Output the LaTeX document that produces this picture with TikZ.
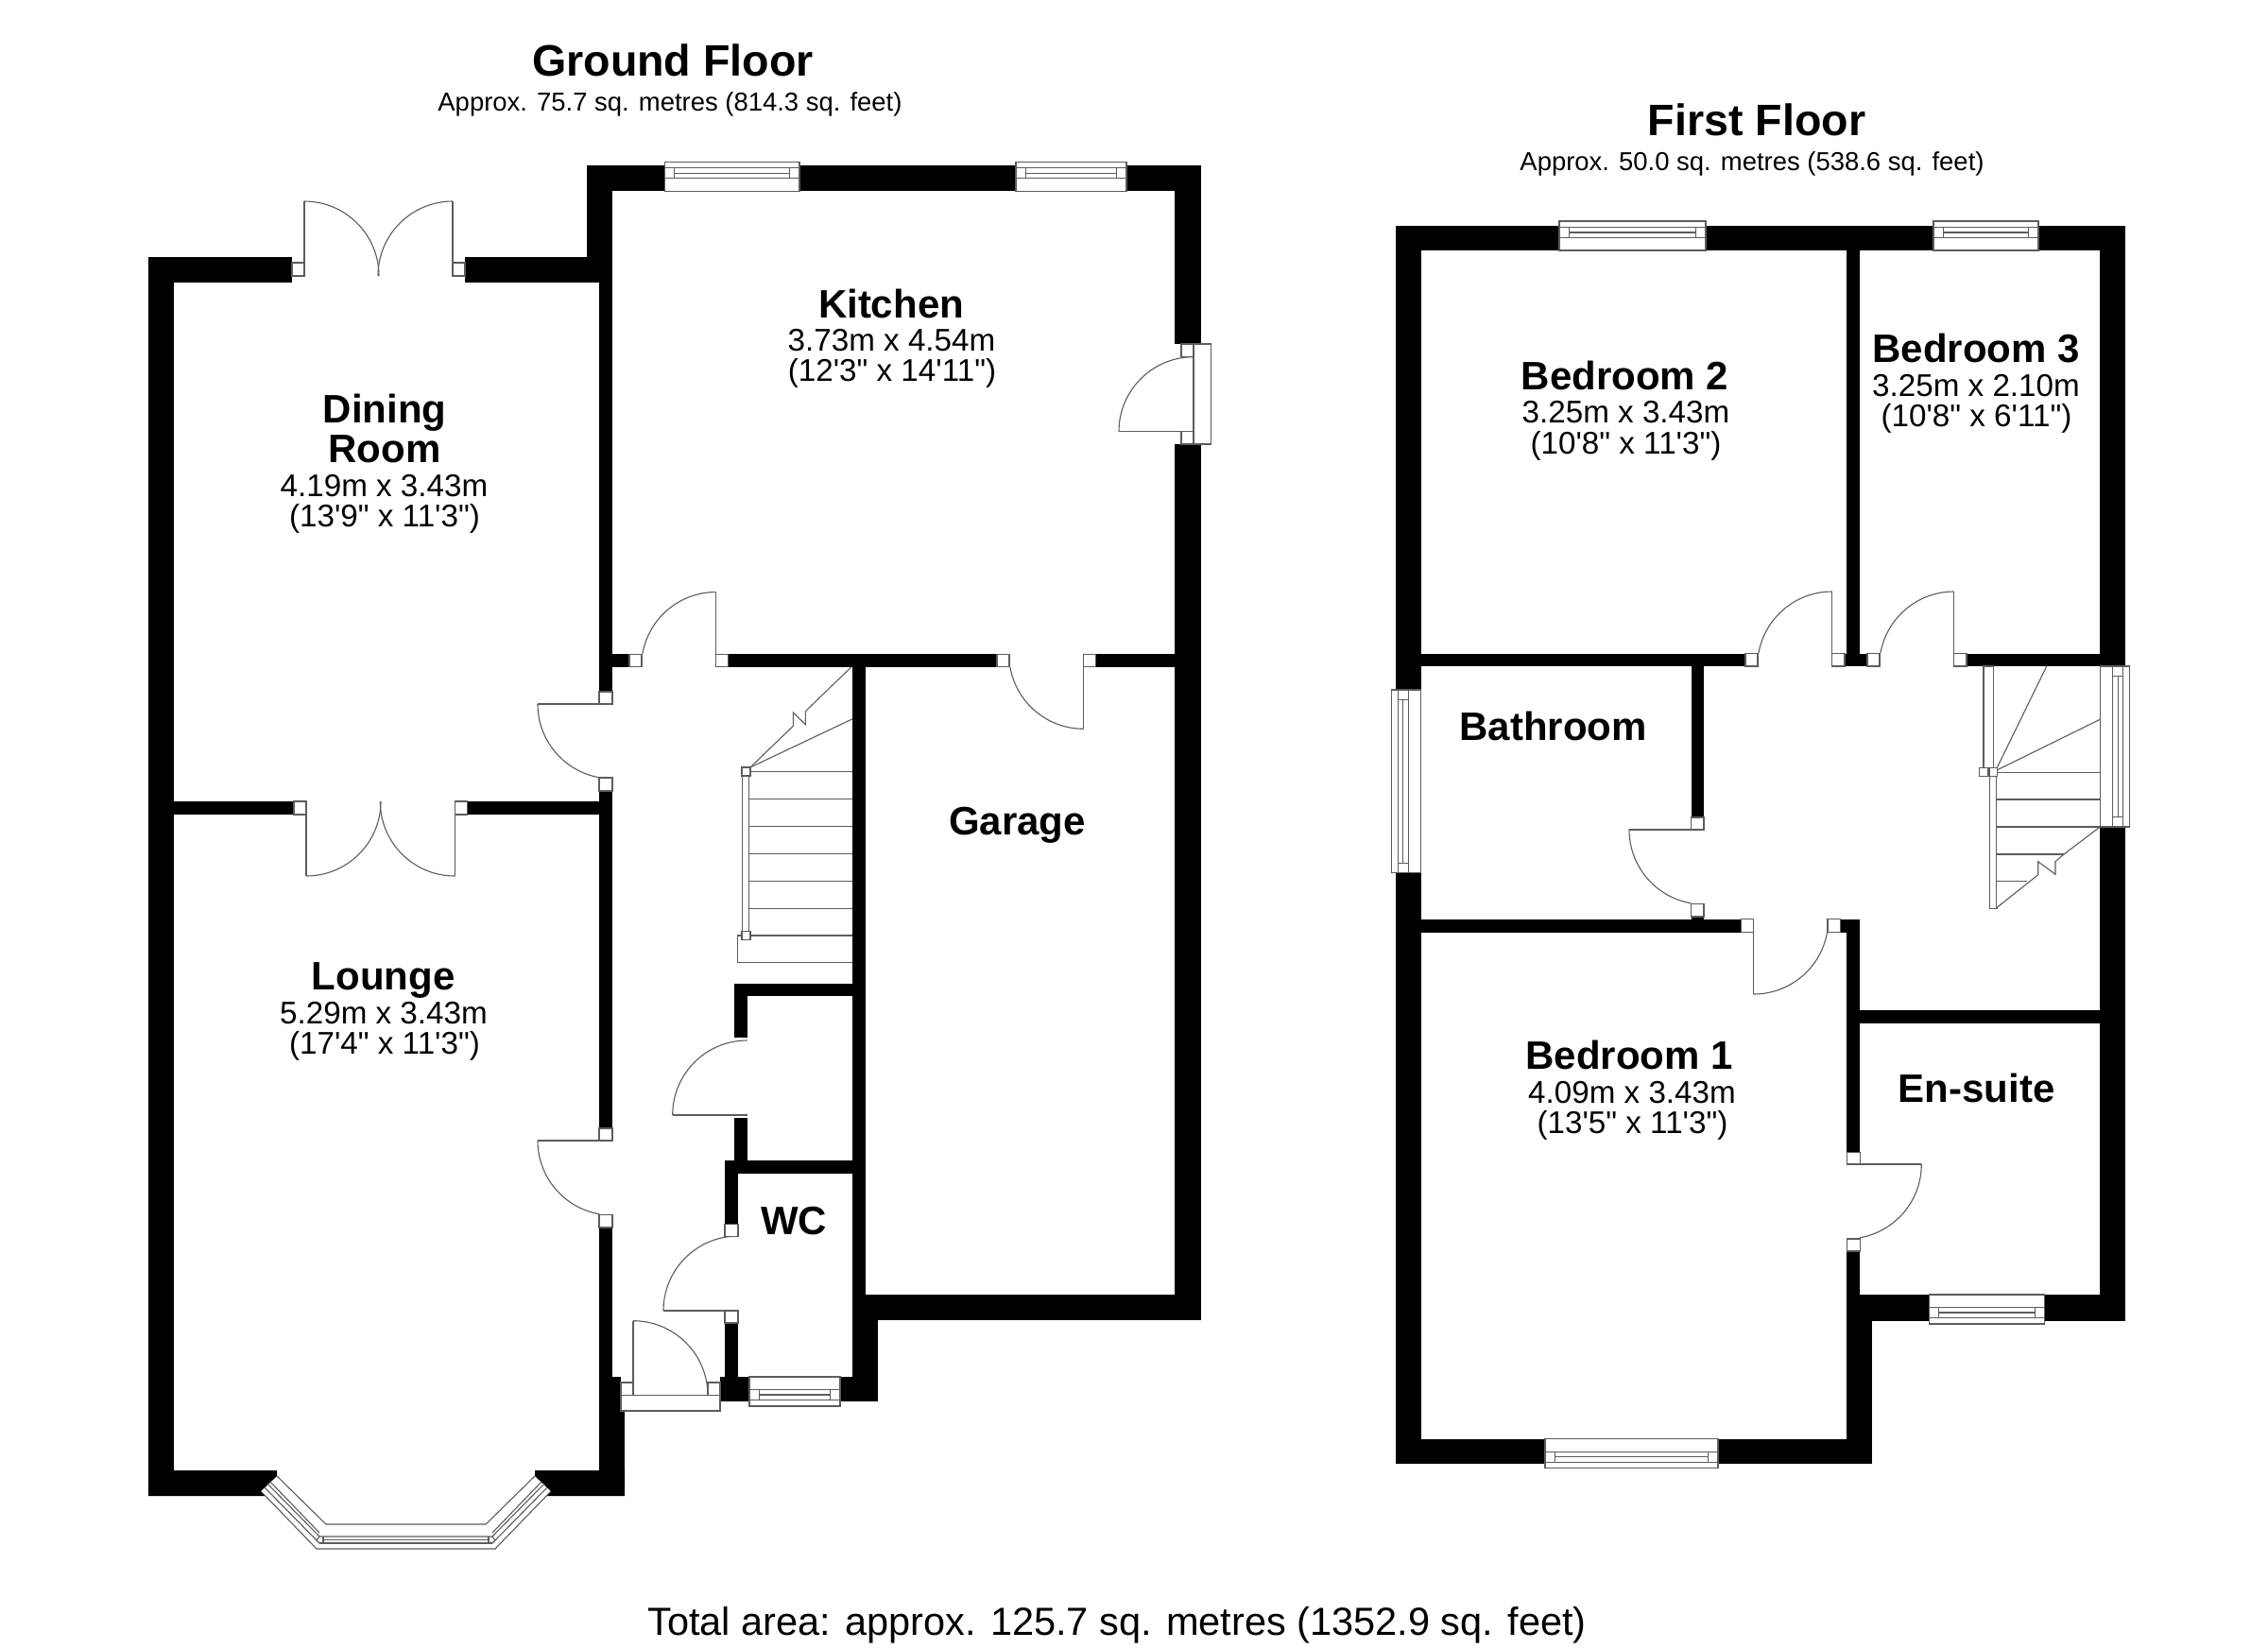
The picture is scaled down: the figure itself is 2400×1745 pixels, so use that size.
\documentclass[tikz,border=0pt]{standalone}
\usepackage{fontspec}
\newfontfamily\arialf{Liberation Sans}
\definecolor{linegray}{gray}{0.36}
\tikzset{
  dl/.style={draw=linegray,line width=0.55pt,line cap=butt,line join=miter},
  titlelab/.style={anchor=base,inner sep=0pt,font=\arialf\bfseries\fontsize{23.3}{26}\selectfont},
  sublab/.style={anchor=base,inner sep=0pt,font=\arialf\fontsize{13.72}{16}\selectfont},
  namelab/.style={anchor=base,inner sep=0pt,font=\arialf\bfseries\fontsize{21}{24}\selectfont},
  dimlab/.style={anchor=base,inner sep=0pt,font=\arialf\fontsize{16.6}{19}\selectfont},
  totallab/.style={anchor=base,inner sep=0pt,font=\arialf\fontsize{20.75}{24}\selectfont}
}
% wall block
\newcommand{\wl}[4]{\fill[black] (#1,#2) rectangle (#3,#4);}
% door jamb
\newcommand{\jb}[4]{\filldraw[fill=white,dl] (#1,#2) rectangle (#3,#4);}
% door leaf end point and swing: centre x,y; leaf end x,y; start,end angle
\newcommand{\swing}[6]{\draw[dl] (#3,#4) -- (#1,#2);\draw[dl] (#1,#2) ++(#5:79) arc[start angle=#5,end angle=#6,radius=79];}
% horizontal window: x1,x2,inner y,sign (+1 outward = down)
\newcommand{\winH}[4]{%
  \filldraw[fill=white,dl] (#1,#3) rectangle (#2,{#3+#4*31});
  \draw[dl] (#1,{#3+#4*13.5}) -- (#2,{#3+#4*13.5});
  \draw[dl] (#1,{#3+#4*24.5}) -- (#2,{#3+#4*24.5});
  \draw[dl] ({#1+10.5},{#3+#4*13.5}) -- ({#1+10.5},{#3+#4*24.5});
  \draw[dl] ({#2-10.5},{#3+#4*13.5}) -- ({#2-10.5},{#3+#4*24.5});
  \draw[dl] ({#1+10.5},{#3+#4*19}) -- ({#2-10.5},{#3+#4*19});}
% vertical window: y1,y2,inner x,sign (+1 outward = right)
\newcommand{\winV}[4]{%
  \filldraw[fill=white,dl] (#3,#1) rectangle ({#3+#4*31},#2);
  \draw[dl] ({#3+#4*13.5},#1) -- ({#3+#4*13.5},#2);
  \draw[dl] ({#3+#4*24.5},#1) -- ({#3+#4*24.5},#2);
  \draw[dl] ({#3+#4*13.5},{#1+10.5}) -- ({#3+#4*24.5},{#1+10.5});
  \draw[dl] ({#3+#4*13.5},{#2-10.5}) -- ({#3+#4*24.5},{#2-10.5});
  \draw[dl] ({#3+#4*19},{#1+10.5}) -- ({#3+#4*19},{#2-10.5});}
\begin{document}
\begin{tikzpicture}[x=0.5pt,y=-0.5pt]
\useasboundingbox (0,0) rectangle (2400,1745);
\fill[white] (0,0) rectangle (2400,1745);

%%% GROUND FLOOR walls
\wl{157}{272}{184}{1556}
\wl{157}{272}{309}{299}
\wl{492}{272}{648}{299}
\wl{621}{175}{648}{299}
\wl{634}{299}{648}{732}
\wl{634}{837}{648}{1194}
\wl{634}{1299}{648}{1457}
\wl{634}{1457}{657}{1493}
\wl{634}{1493}{661}{1556}
\wl{184}{848}{311}{862}
\wl{494.3}{848}{634}{862}
\fill[black] (157,1556) -- (293,1556) -- (293,1562) -- (276,1578) -- (281,1583) -- (157,1583) -- cycle;
\fill[black] (661,1556) -- (566,1556) -- (566,1562) -- (583,1578) -- (578,1583) -- (661,1583) -- cycle;
\wl{621}{175}{1270.5}{202.3}
\wl{1243}{175}{1270.5}{364}
\wl{1243}{470}{1270.5}{1397}
\wl{648}{692.3}{666}{705.5}
\wl{770.5}{692.3}{1055}{705.5}
\wl{1159.7}{692.3}{1243}{705.5}
\wl{902.3}{692.3}{915.5}{1397}
\wl{902.3}{1397}{929}{1483}
\wl{915}{1370}{1270.5}{1397}
\wl{776.7}{1041}{903}{1054}
\wl{776.7}{1041}{790.5}{1098}
\wl{776.7}{1183}{790.5}{1228}
\wl{767}{1228}{903}{1241.7}
\wl{767}{1228}{781}{1295.7}
\wl{767}{1400}{781}{1483}
\wl{762}{1457}{793}{1483}
\wl{889}{1457}{929}{1483}

%%% Ground floor windows
\winH{703.3}{846}{202.3}{-1}
\winH{1075}{1192}{202.3}{-1}
\winH{793}{889}{1457}{1}

%%% Bay window
\draw[dl] (293,1562) -- (345,1613) -- (514,1613) -- (566,1562);
\draw[dl] (276,1578) -- (335,1639) -- (524,1639) -- (583,1578);
\draw[dl] (283,1570) -- (338,1626) -- (521,1626) -- (576,1570);
\draw[dl] (280,1574) -- (335,1630);
\draw[dl] (579,1574) -- (524,1630);
\draw[dl] (285.5,1567.5) -- (338,1622);
\draw[dl] (573.5,1567.5) -- (521,1622);
\draw[dl] (342,1629.5) -- (517,1629.5);
\draw[dl] (338,1633) -- (521,1633);
\draw[dl] (342,1626) -- (342,1633);
\draw[dl] (517,1626) -- (517,1633);
\draw[dl] (338,1626) -- (335,1630) -- (338,1633);
\draw[dl] (521,1626) -- (524,1630) -- (521,1633);

%%% Ground floor doors
\jb{309}{278}{322}{292}
\jb{479}{278}{492}{292}
\swing{322}{292}{322}{213}{270}{360}
\swing{479}{292}{479}{213}{270}{180}
\jb{311}{848}{324}{862}
\jb{481.3}{848}{494.3}{862}
\swing{324}{848}{324}{927}{90}{0}
\swing{481.3}{848}{481.3}{927}{90}{180}
\jb{666}{692.3}{679}{705.5}
\jb{757.7}{692.3}{770.5}{705.5}
\swing{757.7}{705.5}{757.7}{626.5}{270}{190}
\jb{634}{732}{648}{745}
\jb{634}{823}{648}{837}
\swing{648}{745}{569}{745}{180}{100}
\jb{634}{1194}{648}{1207}
\jb{634}{1285.7}{648}{1299}
\swing{648}{1207}{569}{1207}{180}{100}
\jb{1055}{692.3}{1068}{705.5}
\jb{1146.7}{692.3}{1159.7}{705.5}
\swing{1146.7}{692.3}{1146.7}{771.3}{90}{170}
\swing{790.7}{1180}{711.7}{1180}{180}{270}
\jb{767}{1295.7}{781}{1308.7}
\jb{767}{1387}{781}{1400}
\swing{781}{1387}{702}{1387}{180}{264}
% front door
\filldraw[fill=white,dl] (657,1476.7) rectangle (762,1493);
\jb{657}{1463}{670}{1476.7}
\jb{749}{1463}{762}{1476.7}
\swing{670}{1476.7}{670}{1397.7}{270}{360}
% kitchen side door
\filldraw[fill=white,dl] (1263,364) rectangle (1281.5,470);
\jb{1250}{364}{1263}{377.5}
\jb{1250}{456.7}{1263}{470}
\swing{1263}{456.7}{1184}{456.7}{180}{270}

%%% Ground floor stairs
\foreach \ty in {816.7,845.7,874.7,903.7,932.5,961.3,990}{\draw[dl] (792,\ty) -- (902.3,\ty);}
\draw[dl] (792,990) -- (780.3,990) -- (780.3,1018.7) -- (902.3,1018.7);
\filldraw[fill=white,dl] (785.7,821) rectangle (792.3,986);
\filldraw[fill=white,dl] (785,812) rectangle (794,821);
\filldraw[fill=white,dl] (785,985.7) rectangle (794,994.7);
\draw[dl] (794,812) -- (839.3,768.3) -- (839.3,754) -- (852.3,766.7) -- (852.3,752.7) -- (901,705.7);
\draw[dl] (794,812) -- (902.3,760.7);

%%% FIRST FLOOR walls
\wl{1477}{239}{1503.7}{1549.3}
\wl{1477}{239}{2249}{265}
\wl{2222.3}{239}{2249}{705}
\wl{2222.3}{875}{2249}{1397.7}
\wl{1954.3}{239}{1968.3}{692}
\wl{1503}{691.7}{1847}{705}
\wl{1952}{691.7}{1976}{705}
\wl{2081}{691.7}{2222.3}{705}
\wl{1789.7}{705}{1803}{865}
\wl{1503}{972.7}{1842.7}{986.7}
\wl{1790}{968}{1803}{973}
\wl{1947}{972.7}{1968.3}{986.7}
\wl{1954.3}{972.7}{1968.3}{1219.3}
\wl{1954.3}{1324}{1968.3}{1397}
\wl{1954}{1069.3}{2222.3}{1083.3}
\wl{1954.3}{1370}{2249}{1397.7}
\wl{1954.3}{1397}{1981}{1549.3}
\wl{1477}{1522.7}{1981}{1549.3}

%%% First floor windows
\winH{1650}{1805}{265}{-1}
\winH{2046}{2157}{265}{-1}
\winV{730}{923.7}{1503.7}{-1}
\winV{705}{875}{2222.3}{1}
\winH{2041.3}{2163.7}{1370}{1}
\winH{1635}{1818}{1522.7}{1}

%%% First floor doors
\jb{1847}{691.7}{1860}{705}
\jb{1938.7}{691.7}{1952}{705}
\swing{1938.7}{705}{1938.7}{626}{270}{190}
\jb{1976}{691.7}{1989}{705}
\jb{2067.7}{691.7}{2081}{705}
\swing{2067.7}{705}{2067.7}{626}{270}{190}
\jb{1789.7}{865}{1803}{878}
\jb{1789.7}{956.7}{1803}{970}
\swing{1803}{878}{1724}{878}{180}{100}
\jb{1842.7}{972.7}{1855.7}{986.7}
\jb{1934}{972.7}{1947.7}{986.7}
\swing{1855.7}{973}{1855.7}{1052}{90}{10}
\jb{1954.3}{1219.3}{1968.3}{1232}
\jb{1954.3}{1311}{1968.3}{1324}
\swing{1954.3}{1232}{2033.3}{1232}{0}{80}

%%% First floor stairs
\foreach \ty in {817.3,846,875}{\draw[dl] (2112.3,\ty) -- (2222.3,\ty);}
\draw[dl] (2112.3,904) -- (2184,904);
\draw[dl] (2112.3,932.7) -- (2145,932.7);
\filldraw[fill=white,dl] (2099,705) rectangle (2109.3,813);
\filldraw[fill=white,dl] (2105.7,821.7) rectangle (2112.3,961.7);
\filldraw[fill=white,dl] (2094.7,812.7) rectangle (2104,821.7);
\filldraw[fill=white,dl] (2105.7,812.7) rectangle (2113.7,821.7);
\draw[dl] (2113,813) -- (2165.7,705);
\draw[dl] (2113,815) -- (2222.3,761.3);
\draw[dl] (2222.3,875) -- (2184,904) -- (2175,911.7) -- (2175,925.3) -- (2156.7,911.7) -- (2156.7,925.7) -- (2112.7,960.7);
\draw[dl] (2105.7,961.7) -- (2113.7,961.7);

%%% Texts
\node[titlelab] (gftitle) at (712,80.5) {Ground Floor};
\node[sublab] (gfsub) at (709,117.5) {Approx. 75.7 sq. metres (814.3 sq. feet)};
\node[titlelab] (fftitle) at (1859,143) {First Floor};
\node[sublab] (ffsub) at (1854,180.5) {Approx. 50.0 sq. metres (538.6 sq. feet)};

\node[namelab] (din1) at (407,447.5) {Dining};
\node[namelab] (din2) at (407,489) {Room};
\node[dimlab] (din3) at (406.5,525) {4.19m x 3.43m};
\node[dimlab] (din4) at (407,557) {(13'9" x 11'3")};

\node[namelab] (kit1) at (943,336) {Kitchen};
\node[dimlab] (kit2) at (943.5,371) {3.73m x 4.54m};
\node[dimlab] (kit3) at (944,403.5) {(12'3" x 14'11")};

\node[namelab] (lou1) at (405.6,1047) {Lounge};
\node[dimlab] (lou2) at (406,1083) {5.29m x 3.43m};
\node[dimlab] (lou3) at (407,1115.5) {(17'4" x 11'3")};

\node[namelab] (gar1) at (1076.5,883) {Garage};
\node[namelab] (wc1) at (840,1306.7) {WC};

\node[namelab] (bd21) at (1719.5,412.5) {Bedroom 2};
\node[dimlab] (bd22) at (1720.5,447) {3.25m x 3.43m};
\node[dimlab] (bd23) at (1720.5,480) {(10'8" x 11'3")};

\node[namelab] (bd31) at (2091,383) {Bedroom 3};
\node[dimlab] (bd32) at (2091,419) {3.25m x 2.10m};
\node[dimlab] (bd33) at (2091.5,451.5) {(10'8" x 6'11")};

\node[namelab] (bath) at (1643.5,783) {Bathroom};

\node[namelab] (bd11) at (1724,1131.5) {Bedroom 1};
\node[dimlab] (bd12) at (1727,1167) {4.09m x 3.43m};
\node[dimlab] (bd13) at (1727.5,1199.5) {(13'5" x 11'3")};

\node[namelab] (ens) at (2091.5,1166.7) {En-suite};

\node[totallab] (total) at (1182,1730) {Total area: approx. 125.7 sq. metres (1352.9 sq. feet)};
\end{tikzpicture}
\end{document}
